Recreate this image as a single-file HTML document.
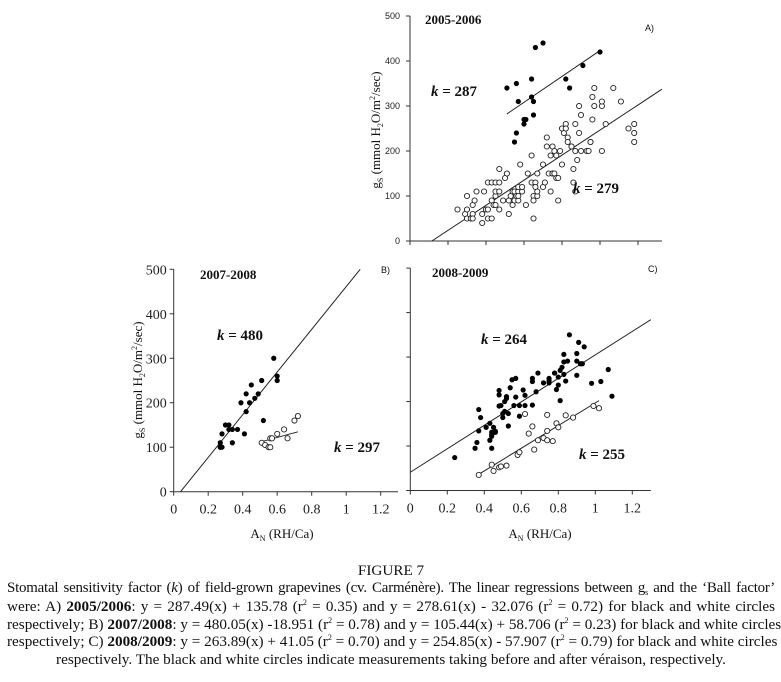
<!DOCTYPE html>
<html><head><meta charset="utf-8">
<style>
html,body{margin:0;padding:0;background:#fff;}
body{width:781px;height:682px;position:relative;overflow:hidden;font-family:"Liberation Serif",serif;}
svg{position:absolute;left:0;top:0;}
.cap{position:absolute;left:7px;width:768px;font-size:15.2px;line-height:17.5px;height:17.5px;color:#111;white-space:nowrap;}
.j{text-align:justify;text-align-last:justify;}
.sb{font-size:8px;line-height:0;position:relative;top:3px;}
.sp{font-size:8px;line-height:0;position:relative;top:-6px;}
</style></head><body>
<svg id="chart" width="781" height="550"></svg>
<div class="cap" style="top:562px;text-align:center;">FIGURE 7</div>
<div class="cap j" style="top:580px;font-size:14.9px;letter-spacing:-0.2px;">Stomatal sensitivity factor (<i>k</i>) of field-grown grapevines (cv. Carménère). The linear regressions between g<span class="sb">s</span> and the ‘Ball factor’</div>
<div class="cap j" style="top:598px;">were: A) <b>2005/2006</b>: y = 287.49(x) + 135.78 (r<span class="sp">2</span> = 0.35) and y = 278.61(x) - 32.076 (r<span class="sp">2</span> = 0.72) for black and white circles</div>
<div class="cap j" style="top:615.5px;">respectively; B) <b>2007/2008</b>: y = 480.05(x) -18.951 (r<span class="sp">2</span> = 0.78) and y = 105.44(x) + 58.706 (r<span class="sp">2</span> = 0.23) for black and white circles</div>
<div class="cap j" style="top:633px;">respectively; C) <b>2008/2009</b>: y = 263.89(x) + 41.05 (r<span class="sp">2</span> = 0.70) and y = 254.85(x) - 57.907 (r<span class="sp">2</span> = 0.79) for black and white circles</div>
<div class="cap" style="top:651px;text-align:center;">respectively. The black and white circles indicate measurements taking before and after véraison, respectively.</div>
<script>
// Panel A data
const aBlackX=[.51,.56,.55,.56,.57,.60,.60,.61,.64,.64,.65,.65,.66,.70,.82,.84,.91,1.00];
const aBlackY=[340,240,220,350,310,260,270,270,360,320,310,280,430,440,360,340,390,420];
const aWhiteX=[.25,.30,.29,.30,.30,.32,.33,.33,.33,.34,.35,.38,.38,.39,.40,.41,.41,.41,.43,.43,.43,.44,.45,.45,.45,.45,.47,.47,.47,.47,.49,.50,.51,.52,.52,.53,.54,.54,.55,.55,.56,.57,.57,.57,.57,.58,.59,.59,.61,.62,.64,.64,.65,.65,.65,.66,.66,.67,.67,.67,.70,.70,.71,.72,.72,.73,.74,.74,.75,.75,.75,.76,.76,.77,.77,.78,.78,.79,.80,.80,.81,.82,.82,.83,.83,.85,.85,.86,.86,.87,.87,.87,.88,.89,.89,.90,.90,.93,.94,.95,.95,.96,.96,.97,.97,1.01,1.01,1.01,1.03,1.07,1.11,1.15,1.18,1.18,1.18];
const aWhiteY=[70,100,60,70,50,50,60,50,80,90,110,60,40,110,70,70,50,130,50,130,90,80,100,130,110,80,70,130,160,110,90,140,150,60,90,100,110,80,90,110,100,90,110,100,120,170,110,120,80,150,190,130,100,90,50,130,120,150,100,110,170,120,130,210,230,150,110,190,150,210,150,200,150,190,140,90,140,200,170,250,240,260,250,230,220,210,210,160,130,260,200,110,180,300,240,280,200,200,200,220,220,320,270,340,300,300,310,200,260,340,310,250,260,240,220];
const aLineBlack=[287.49,135.78,0.51,1.0];
const aLineWhite=[278.61,-32.076,0.115,1.326];
// Panel B data
const bBlackX=[.27,.27,.27,.28,.28,.30,.32,.32,.34,.34,.37,.39,.41,.42,.42,.44,.45,.47,.49,.51,.52,.58,.60,.60];
const bBlackY=[110,100,100,100,130,150,150,140,140,110,140,200,130,180,220,200,240,210,220,250,160,300,260,250];
const bWhiteX=[.51,.53,.55,.56,.56,.57,.60,.64,.66,.70,.72];
const bWhiteY=[110,105,100,100,120,120,130,140,120,160,170];
const bLineBlack=[480.05,-18.951,0.0395,1.0811];
const bLineWhite=[105.44,58.706,0.52,0.72];
// Panel C data
const cBlackX=[.24,.35,.36,.37,.37,.38,.41,.43,.43,.44,.44,.44,.44,.45,.46,.46,.48,.48,.48,.49,.50,.50,.51,.51,.52,.52,.53,.53,.54,.55,.56,.57,.57,.59,.59,.61,.62,.62,.66,.66,.66,.68,.69,.72,.75,.75,.75,.78,.78,.79,.80,.81,.80,.81,.82,.83,.83,.83,.84,.85,.86,.90,.90,.90,.91,.92,.93,.94,.98,1.03,1.07,1.09];
const cBlackY=[74,95,108,134,182,164,142,151,113,131,122,125,95,142,131,133,190,215,225,191,173,164,178,200,211,207,145,173,231,249,191,252,210,167,191,226,214,191,252,245,192,222,264,242,247,252,242,264,264,227,237,202,255,270,277,261,306,289,246,291,350,259,308,291,333,285,285,323,241,245,272,212];
const cWhiteX=[.37,.44,.45,.48,.49,.52,.58,.59,.64,.62,.67,.66,.69,.72,.74,.74,.77,.74,.79,.80,.84,.88,.99,1.02];
const cWhiteY=[35,58,44,52,54,56,80,86,128,172,92,144,113,118,113,170,111,134,151,142,169,164,190,185];
const cLineBlack=[263.89,41.05,0,1.3];
const cLineWhite=[254.85,-57.907,0.37,1.02];
const yTicks=[0,100,200,300,400,500];
const xTicks=[0,0.2,0.4,0.6,0.8,1,1.2];

const NS='http://www.w3.org/2000/svg';
const svg=document.getElementById('chart');
function mk(tag,attrs,parent){const e=document.createElementNS(NS,tag);for(const k in attrs)e.setAttribute(k,attrs[k]);(parent||svg).appendChild(e);return e;}

function panel(o){
  const g=mk('g',{});
  
  
  const sx=v=>o.x0+v*o.xs, sy=v=>o.y0-v*o.ys;
  const ya=mk('line',{x1:o.x0,y1:sy(500),x2:o.x0,y2:o.y0,stroke:'#333','stroke-width':1},g);
  
  
  const xa=mk('line',{x1:o.x0,y1:o.y0,x2:sx(o.xmax),y2:o.y0,stroke:'#333','stroke-width':1},g);
  
  
  yTicks.forEach(t=>{
    mk('line',{x1:o.x0-4,y1:sy(t),x2:o.x0,y2:sy(t),stroke:'#333'},g);
    if(o.yLabels){const tx=mk('text',{x:o.x0-(o.sans?10:7),y:sy(t)+(o.sans?3:5),'text-anchor':'end','font-size':o.sans?9:14,'font-family':o.sans?'Liberation Sans, sans-serif':'Liberation Serif, serif',fill:'#222'},g);tx.textContent=t;
      
      }
  });
  xTicks.forEach(t=>{
    mk('line',{x1:sx(t),y1:o.y0,x2:sx(t),y2:o.y0+4,stroke:'#333'},g);
    if(o.xLabels){const tx=mk('text',{x:sx(t),y:o.y0+22,'text-anchor':'middle','font-size':14,fill:'#222'},g);tx.textContent=t;
      
      }
  });
  [o.lb,o.lw].forEach((L,i)=>{
    const ln=mk('line',{x1:sx(L[2]),y1:sy(L[0]*L[2]+L[1]),x2:sx(L[3]),y2:sy(L[0]*L[3]+L[1]),stroke:'#222','stroke-width':1},g);
    
    
  });
  o.wx.forEach((x,i)=>{
    const c=mk('circle',{cx:sx(x),cy:sy(o.wy[i]),r:2.6,fill:'#fff',stroke:'#222','stroke-width':0.9},g);
    
    
  });
  o.bx.forEach((x,i)=>{
    const c=mk('circle',{cx:sx(x),cy:sy(o.by[i]),r:2.6,fill:'#000'},g);
    
    
  });
}
panel({name:'panel-a',x0:410,y0:241,xs:190,ys:0.45,xmax:1.326,sans:true,yLabels:true,xLabels:false,bx:aBlackX,by:aBlackY,wx:aWhiteX,wy:aWhiteY,lb:aLineBlack,lw:aLineWhite});
panel({name:'panel-b',x0:173.7,y0:491.7,xs:172.5,ys:0.4448,xmax:1.3,yLabels:true,xLabels:true,bx:bBlackX,by:bBlackY,wx:bWhiteX,wy:bWhiteY,lb:bLineBlack,lw:bLineWhite});
panel({name:'panel-c',x0:410.3,y0:490.5,xs:185,ys:0.4448,xmax:1.3,yLabels:false,xLabels:true,bx:cBlackX,by:cBlackY,wx:cWhiteX,wy:cWhiteY,lb:cLineBlack,lw:cLineWhite});
</script>
<svg width="781" height="550" style="position:absolute;left:0;top:0">
<g font-family="Liberation Serif, serif" fill="#111">
<text x="425" y="24" font-size="13" font-weight="bold">2005-2006</text>
<text x="200" y="279" font-size="13" font-weight="bold">2007-2008</text>
<text x="432" y="277" font-size="13" font-weight="bold">2008-2009</text>
<text x="431" y="96" font-size="15" font-weight="bold"><tspan font-style="italic">k</tspan> = 287</text>
<text x="573" y="193" font-size="15" font-weight="bold"><tspan font-style="italic">k</tspan> = 279</text>
<text x="217" y="340" font-size="15" font-weight="bold"><tspan font-style="italic">k</tspan> = 480</text>
<text x="334" y="452" font-size="15" font-weight="bold"><tspan font-style="italic">k</tspan> = 297</text>
<text x="481" y="344" font-size="15" font-weight="bold"><tspan font-style="italic">k</tspan> = 264</text>
<text x="579" y="459" font-size="15" font-weight="bold"><tspan font-style="italic">k</tspan> = 255</text>
</g>
<g font-family="Liberation Sans, sans-serif" font-size="9" fill="#111">
<text x="645" y="31">A)</text>
<text x="381" y="273">B)</text>
<text x="648" y="272">C)</text>
</g>
<g font-family="Liberation Serif, serif" font-size="13" fill="#111">
<text transform="translate(380,130) rotate(-90)" text-anchor="middle">g<tspan font-size="8" dy="3">S</tspan><tspan dy="-3"> (mmol H</tspan><tspan font-size="8" dy="3">2</tspan><tspan dy="-3">O/m</tspan><tspan font-size="8" dy="-5">2</tspan><tspan dy="5">/sec)</tspan></text>
<text transform="translate(142,380) rotate(-90)" text-anchor="middle">g<tspan font-size="8" dy="3">S</tspan><tspan dy="-3"> (mmol H</tspan><tspan font-size="8" dy="3">2</tspan><tspan dy="-3">O/m</tspan><tspan font-size="8" dy="-5">2</tspan><tspan dy="5">/sec)</tspan></text>
<text x="282" y="538" text-anchor="middle">A<tspan font-size="8" dy="3">N</tspan><tspan dy="-3"> (RH/Ca)</tspan></text>
<text x="540" y="538" text-anchor="middle">A<tspan font-size="8" dy="3">N</tspan><tspan dy="-3"> (RH/Ca)</tspan></text>
</g>
</svg>
</body></html>
